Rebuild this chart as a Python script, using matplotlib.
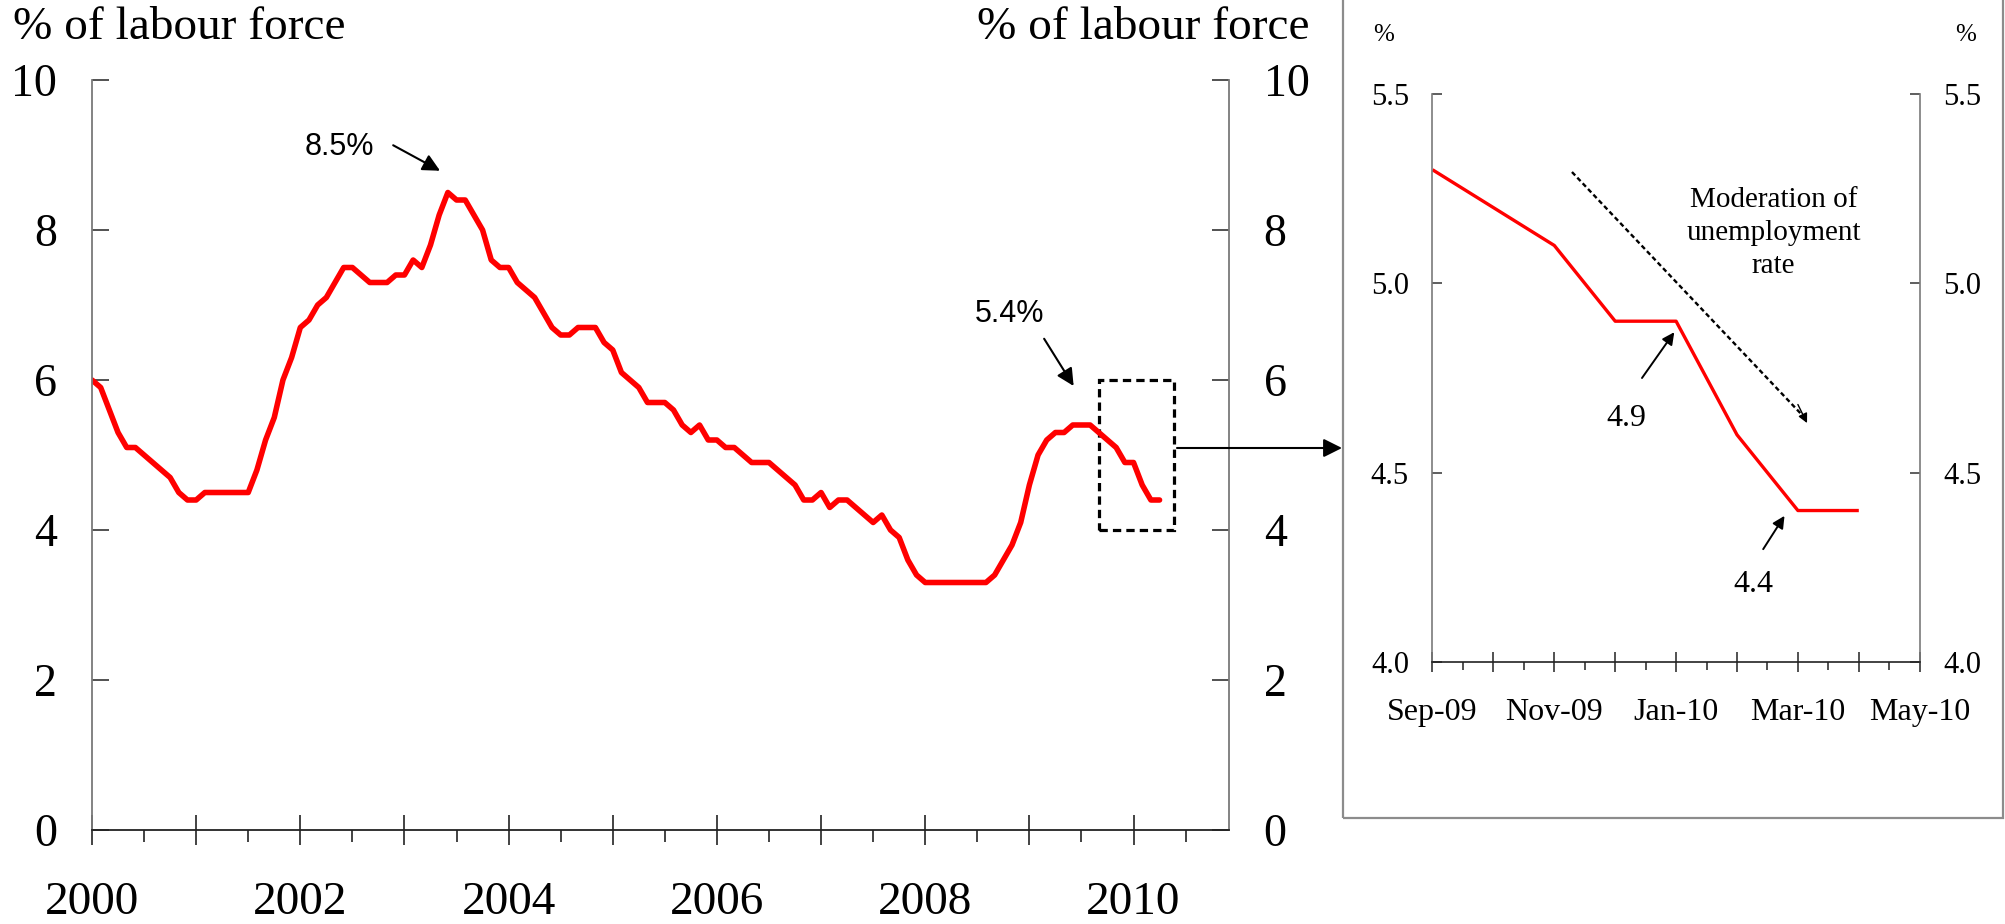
import matplotlib
matplotlib.use('Agg')
import matplotlib.pyplot as plt
import numpy as np
from matplotlib.patches import Rectangle

plt.rcParams['font.family'] = ['Liberation Serif', 'DejaVu Serif']

# monthly unemployment rate, Jan 2000 .. Apr 2010 (% of labour force)
rate = [6.0, 5.9, 5.6, 5.3, 5.1, 5.1, 5.0, 4.9, 4.8, 4.7, 4.5, 4.4,
        4.4, 4.5, 4.5, 4.5, 4.5, 4.5, 4.5, 4.8, 5.2, 5.5, 6.0, 6.3,
        6.7, 6.8, 7.0, 7.1, 7.3, 7.5, 7.5, 7.4, 7.3, 7.3, 7.3, 7.4,
        7.4, 7.6, 7.5, 7.8, 8.2, 8.5, 8.4, 8.4, 8.2, 8.0, 7.6, 7.5,
        7.5, 7.3, 7.2, 7.1, 6.9, 6.7, 6.6, 6.6, 6.7, 6.7, 6.7, 6.5,
        6.4, 6.1, 6.0, 5.9, 5.7, 5.7, 5.7, 5.6, 5.4, 5.3, 5.4, 5.2,
        5.2, 5.1, 5.1, 5.0, 4.9, 4.9, 4.9, 4.8, 4.7, 4.6, 4.4, 4.4,
        4.5, 4.3, 4.4, 4.4, 4.3, 4.2, 4.1, 4.2, 4.0, 3.9, 3.6, 3.4,
        3.3, 3.3, 3.3, 3.3, 3.3, 3.3, 3.3, 3.3, 3.4, 3.6, 3.8, 4.1,
        4.6, 5.0, 5.2, 5.3, 5.3, 5.4, 5.4, 5.4, 5.3, 5.2, 5.1, 4.9,
        4.9, 4.6, 4.4, 4.4]
months = np.arange(len(rate))
years = ['2000', '', '2002', '', '2004', '', '2006', '', '2008', '', '2010']

# zoomed-in panel: Sep-09 .. Apr-10
zoom_start = 116
zoom_rate = rate[zoom_start:]
zoom_months = np.arange(len(zoom_rate))
zoom_labels = ['Sep-09', '', 'Nov-09', '', 'Jan-10', '', 'Mar-10', '', 'May-10']

W, H = 2006, 924
fig = plt.figure(figsize=(W / 100, H / 100), dpi=100)

def fx(px):
    return px / W

def fy(py):
    return 1 - py / H

red = '#FF0000'
grey = '#7a7a7a'

# ---------------- main chart ----------------
ax = fig.add_axes([fx(92), fy(830), fx(1229 - 92), 750 / H])
ax.plot(months, rate, color=red, lw=4.0, solid_capstyle='round', solid_joinstyle='round')
ax.set_xlim(0, 131)
ax.set_ylim(0, 10)

ax.spines['top'].set_visible(False)
for s in ['left', 'right']:
    ax.spines[s].set_color(grey)
    ax.spines[s].set_linewidth(1.3)
ax.spines['bottom'].set_color('#222222')
ax.spines['bottom'].set_linewidth(1.3)

ax.set_yticks(range(0, 11, 2))
ax.tick_params(axis='y', which='major', direction='in', length=12, width=1.2, color='#333333',
               left=True, right=True, labelleft=True, labelright=True, labelsize=33, pad=25)
ax.set_xticks(range(0, 132, 12))
ax.set_xticklabels(years)
ax.set_xticks(range(6, 132, 12), minor=True)
ax.tick_params(axis='x', which='major', direction='inout', length=22, width=1.2, color='#222222',
               labelsize=34, pad=26)
ax.tick_params(axis='x', which='minor', direction='out', length=8.5, width=1.2, color='#222222')

fig.text(fx(13), fy(28), '% of labour force', ha='left', va='center', fontsize=34)
fig.text(fx(1310), fy(28), '% of labour force', ha='right', va='center', fontsize=34)

sans = ['Liberation Sans', 'DejaVu Sans']
ax.text(28.5, 9.0, '8.5%', ha='center', va='baseline', fontsize=22, family=sans)
ax.annotate('', xy=(40.1, 8.79), xytext=(34.7, 9.13),
            arrowprops=dict(arrowstyle='-|>', color='black', lw=1.5, mutation_scale=26,
                            shrinkA=0, shrinkB=0))
ax.text(105.7, 6.77, '5.4%', ha='center', va='baseline', fontsize=22, family=sans)
ax.annotate('', xy=(113.1, 5.92), xytext=(109.7, 6.55),
            arrowprops=dict(arrowstyle='-|>', color='black', lw=1.5, mutation_scale=26,
                            shrinkA=0, shrinkB=0))

ax.add_patch(Rectangle((zoom_start, 4), 8.7, 2, fill=False, ec='black', lw=2.3,
                       ls=(0, (2.6, 1.6)), clip_on=False))

# arrow pointing to the zoomed panel
ax.annotate('', xy=(1342, H - 448), xytext=(1177, H - 448),
            xycoords='figure pixels', textcoords='figure pixels',
            arrowprops=dict(arrowstyle='-|>', color='black', lw=1.5, mutation_scale=28,
                            shrinkA=0, shrinkB=0))

# frame round the zoomed panel (top edge falls outside the picture)
fig.add_artist(Rectangle((fx(1343), fy(818)), fx(2003 - 1343), 1.0, fill=False,
                         ec='#8c8c8c', lw=1.6, transform=fig.transFigure, clip_on=False))

# ---------------- zoomed panel ----------------
ax2 = fig.add_axes([fx(1432.5), fy(662), fx(1919.7 - 1432.5), 568 / H])
ax2.plot(zoom_months, zoom_rate, color=red, lw=2.4, solid_capstyle='butt')
ax2.set_xlim(0, 8)
ax2.set_ylim(4.0, 5.5)

ax2.spines['top'].set_visible(False)
for s in ['left', 'right']:
    ax2.spines[s].set_color(grey)
    ax2.spines[s].set_linewidth(1.2)
ax2.spines['bottom'].set_color('#222222')
ax2.spines['bottom'].set_linewidth(1.2)

ax2.set_yticks([4.0, 4.5, 5.0, 5.5])
ax2.set_yticklabels(['%.1f' % v for v in [4.0, 4.5, 5.0, 5.5]])
ax2.tick_params(axis='y', direction='in', length=7.5, width=1.1, color='#333333',
                left=True, right=True, labelleft=True, labelright=True, labelsize=22, pad=17)
ax2.set_xticks(range(0, 9))
ax2.set_xticklabels(zoom_labels)
ax2.set_xticks(np.arange(0.5, 8, 1), minor=True)
ax2.tick_params(axis='x', which='major', direction='inout', length=14.5, width=1.1,
                color='#222222', labelsize=23, pad=19)
ax2.tick_params(axis='x', which='minor', direction='out', length=6, width=1.1, color='#222222')

fig.text(fx(1384), fy(35), '%', ha='center', va='center', fontsize=18)
fig.text(fx(1966), fy(35), '%', ha='center', va='center', fontsize=18)

ax2.text(3.18, 4.623, '4.9', ha='center', va='baseline', fontsize=23)
ax2.annotate('', xy=(3.97, 4.871), xytext=(3.44, 4.75),
             arrowprops=dict(arrowstyle='-|>', color='black', lw=1.4, mutation_scale=18,
                             shrinkA=0, shrinkB=0))
ax2.text(5.27, 4.186, '4.4', ha='center', va='baseline', fontsize=23)
ax2.annotate('', xy=(5.78, 4.386), xytext=(5.43, 4.298),
             arrowprops=dict(arrowstyle='-|>', color='black', lw=1.4, mutation_scale=18,
                             shrinkA=0, shrinkB=0))

# dotted trend arrow
ax2.plot([2.29, 6.10], [5.294, 4.647], color='black', lw=1.7, ls=(0, (2, 1.3)))
ax2.annotate('', xy=(6.15, 4.631), xytext=(6.0, 4.68),
             arrowprops=dict(arrowstyle='-|>', color='black', lw=1.0, mutation_scale=14,
                             shrinkA=0, shrinkB=0))
ax2.text(5.6, 5.133, 'Moderation of\nunemployment\nrate', ha='center', va='center',
         fontsize=21, linespacing=1.35)

fig.savefig('out.png', dpi=100)
